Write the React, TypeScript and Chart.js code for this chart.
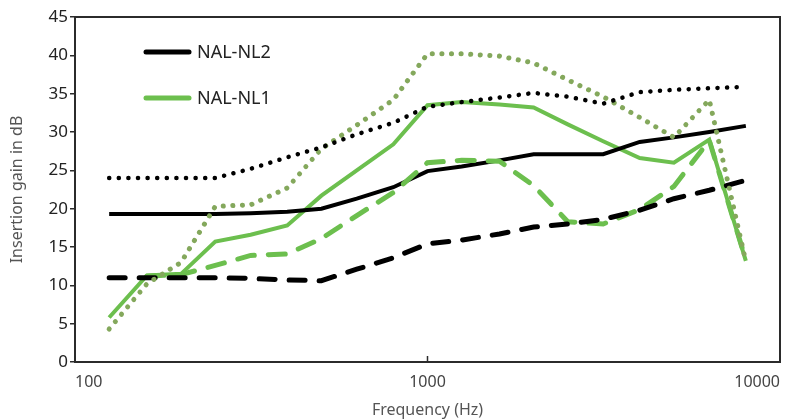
import React, { useEffect, useRef } from "react";
import { Chart, registerables } from "chart.js";

Chart.register(...registerables);

const frequencies = [125, 160, 200, 250, 315, 400, 500, 630, 800, 1000, 1250, 1600, 2000, 2500, 3150, 4000, 5000, 6300, 8000];

const nl2Solid = [19.3, 19.3, 19.3, 19.3, 19.4, 19.6, 20.0, 21.3, 22.8, 24.9, 25.5, 26.3, 27.1, 27.1, 27.1, 28.7, 29.3, 30.0, 30.8];
const nl2Dotted = [24.0, 24.0, 24.0, 24.0, 25.2, 26.7, 28.0, 29.7, 31.2, 33.3, 33.9, 34.5, 35.1, 34.6, 33.7, 35.2, 35.5, 35.7, 35.9];
const nl2Dashed = [11.0, 11.0, 11.0, 11.0, 10.9, 10.7, 10.6, 12.1, 13.6, 15.4, 15.9, 16.7, 17.6, 18.0, 18.6, 19.8, 21.3, 22.4, 23.7];

const nl1Solid = [5.8, 11.3, 11.5, 15.7, 16.6, 17.8, 21.7, 25.0, 28.4, 33.5, 33.9, 33.6, 33.2, 31.0, 28.8, 26.6, 26.0, 29.0, 13.2];
const nl1Dotted = [4.3, 10.2, 13.0, 20.3, 20.5, 22.7, 27.8, 30.9, 34.2, 40.2, 40.2, 39.9, 39.0, 36.8, 34.6, 31.9, 29.3, 34.2, 13.1];
const nl1Dashed = [null, 11.2, 11.4, 12.6, 13.9, 14.1, 16.1, 19.1, 22.1, 26.0, 26.3, 26.2, 23.0, 18.3, 18.0, 19.9, 22.9, 28.9, 13.3];

const xTickValues = [100, 1000, 10000];
const legendLabels = ["NAL-NL2", "NAL-NL1"];

const BLACK = "#000000";
const GREEN = "#6cbf4e";
const GREEN_DOT = "#84a85c";
const FONT = "'Noto Sans', sans-serif";

function toPoints(vals: (number | null)[]) {
  return frequencies.map((f, i) => ({ x: f, y: vals[i] }));
}

const framePlugin = {
  id: "frame",
  afterDraw(chart: any) {
    const { ctx, chartArea } = chart;
    const { left, right, top, bottom } = chartArea;
    ctx.save();
    ctx.strokeStyle = "#2b2b2b";
    ctx.lineWidth = 2;
    ctx.strokeRect(left, top, right - left, bottom - top);
    const xs = chart.scales.x;
    ctx.lineWidth = 1.5;
    xTickValues.forEach((v) => {
      const px = xs.getPixelForValue(v);
      ctx.beginPath();
      ctx.moveTo(px, bottom);
      ctx.lineTo(px, bottom - 6);
      ctx.stroke();
    });
    const items = [
      { label: legendLabels[0], color: BLACK },
      { label: legendLabels[1], color: GREEN },
    ];
    const x0 = left + 71;
    const x1 = left + 114;
    items.forEach((it, i) => {
      const y = top + 35 + i * 46;
      ctx.strokeStyle = it.color;
      ctx.lineWidth = 5;
      ctx.lineCap = "round";
      ctx.beginPath();
      ctx.moveTo(x0, y);
      ctx.lineTo(x1, y);
      ctx.stroke();
      ctx.fillStyle = "#222";
      ctx.font = `18px ${FONT}`;
      ctx.textBaseline = "middle";
      ctx.textAlign = "left";
      ctx.fillText(it.label, x1 + 8, y + 1);
    });
    ctx.restore();
  },
};

export default function App() {
  const ref = useRef<HTMLCanvasElement>(null);
  useEffect(() => {
    document.body.style.margin = "0";
    const canvas = ref.current!;
    const chart = new Chart(canvas, {
      type: "line",
      data: {
        datasets: [
          {
            label: "NAL-NL2 dotted",
            data: toPoints(nl2Dotted),
            borderColor: BLACK,
            borderWidth: 4.5,
            borderDash: [0.1, 9.5],
            borderCapStyle: "round",
            pointRadius: 0,
          },
          {
            label: "NAL-NL1 dotted",
            data: toPoints(nl1Dotted),
            borderColor: GREEN_DOT,
            borderWidth: 5,
            borderDash: [0.1, 9.5],
            borderCapStyle: "round",
            pointRadius: 0,
          },
          {
            label: "NAL-NL2 dashed",
            data: toPoints(nl2Dashed),
            borderColor: BLACK,
            borderWidth: 5,
            borderDash: [16, 14],
            borderCapStyle: "round",
            pointRadius: 0,
          },
          {
            label: "NAL-NL1 dashed",
            data: toPoints(nl1Dashed),
            borderColor: GREEN,
            borderWidth: 5,
            borderDash: [17, 14],
            borderCapStyle: "round",
            pointRadius: 0,
          },
          {
            label: "NAL-NL2",
            data: toPoints(nl2Solid),
            borderColor: BLACK,
            borderWidth: 4,
            pointRadius: 0,
          },
          {
            label: "NAL-NL1",
            data: toPoints(nl1Solid),
            borderColor: GREEN,
            borderWidth: 4,
            pointRadius: 0,
          },
        ],
      },
      options: {
        animation: false,
        responsive: false,
        maintainAspectRatio: false,
        layout: { padding: { top: 17, right: 11, left: 0, bottom: 0 } },
        plugins: { legend: { display: false }, tooltip: { enabled: false } },
        scales: {
          x: {
            type: "logarithmic",
            min: 100,
            max: 10000,
            afterBuildTicks: (s: any) => {
              s.ticks = xTickValues.map((v) => ({ value: v }));
            },
            afterFit: (s: any) => {
              s.height = 58;
            },
            grid: { display: false, drawTicks: false },
            border: { display: false },
            ticks: {
              align: "inner",
              padding: 11,
              color: "#444",
              font: { family: FONT, size: 16 },
              maxRotation: 0,
              autoSkip: false,
              callback: (v: any) => String(v),
            },
            title: {
              display: true,
              text: "Frequency (Hz)",
              color: "#555",
              font: { family: FONT, size: 16 },
              padding: { top: 0, bottom: 0 },
            },
          },
          y: {
            min: 0,
            max: 45,
            afterFit: (s: any) => {
              s.width = 75;
            },
            grid: { display: true, drawOnChartArea: false, drawTicks: true, tickLength: 5, color: "#2b2b2b", lineWidth: 1.5 },
            border: { display: false },
            ticks: {
              stepSize: 5,
              padding: 2,
              color: "#222",
              font: { family: FONT, size: 17 },
            },
            title: {
              display: true,
              text: "Insertion gain in dB",
              color: "#555",
              font: { family: FONT, size: 16 },
              padding: { top: 8, bottom: 0 },
            },
          },
        },
      },
      plugins: [framePlugin],
    } as any);
    return () => chart.destroy();
  }, []);
  return (
    <div style={{ width: 791, height: 420 }}>
      <canvas ref={ref} width={791} height={420} style={{ display: "block" }} />
    </div>
  );
}
